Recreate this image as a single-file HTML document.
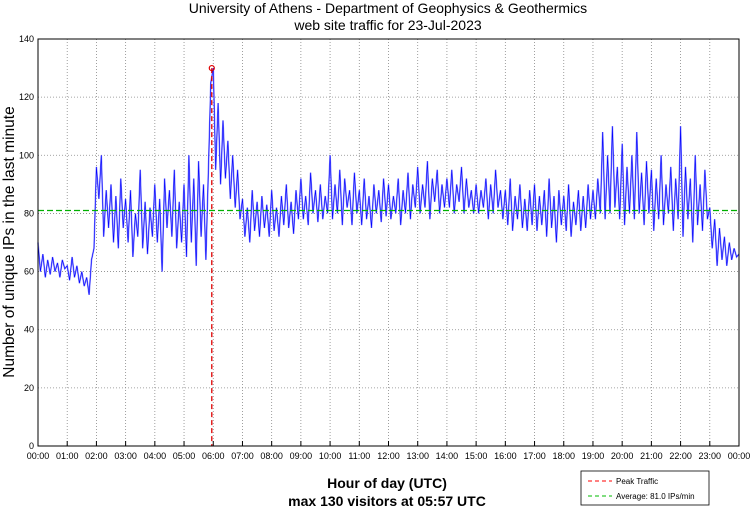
<!DOCTYPE html>
<html><head><meta charset="utf-8"><style>
body{margin:0;background:#fff;}
svg text{font-family:"Liberation Sans",sans-serif;}
</style></head><body>
<svg id="chart" width="750" height="511" xmlns="http://www.w3.org/2000/svg">
<rect width="750" height="511" fill="#fff"/>
<text x="388" y="13" font-size="14" text-anchor="middle">University of Athens - Department of Geophysics &amp; Geothermics</text>
<text x="388" y="30" font-size="14" text-anchor="middle">web site traffic for 23-Jul-2023</text>
<g id="grid"></g>
<g id="ticks"></g>
<g id="series"></g>
<rect x="38" y="39" width="701" height="407" fill="none" stroke="#000" stroke-width="1"/>
<text transform="translate(14,242) rotate(-90)" font-size="15.5" text-anchor="middle">Number of unique IPs in the last minute</text>
<text x="387" y="488" font-size="14" font-weight="bold" text-anchor="middle">Hour of day (UTC)</text>
<text x="387" y="506" font-size="14" font-weight="bold" text-anchor="middle">max 130 visitors at 05:57 UTC</text>
<g>
<rect x="581" y="471" width="128" height="34" fill="#fff" stroke="#000" stroke-width="0.8"/>
<line x1="588" y1="481" x2="612" y2="481" stroke="#f00" stroke-dasharray="4,3"/>
<text x="616" y="484" font-size="8">Peak Traffic</text>
<line x1="588" y1="496" x2="612" y2="496" stroke="#0b0" stroke-dasharray="4,3"/>
<text x="616" y="499" font-size="8">Average: 81.0 IPs/min</text>
</g>
</svg>
<script>
const yTicks=[0,20,40,60,80,100,120,140];
const hourLabels=["00:00","01:00","02:00","03:00","04:00","05:00","06:00","07:00","08:00","09:00","10:00","11:00","12:00","13:00","14:00","15:00","16:00","17:00","18:00","19:00","20:00","21:00","22:00","23:00","00:00"];
const traffic=[
70,60,66,58,64,59,65,60,63,58,64,61,
62,57,65,58,62,56,60,55,58,52,64,68,
96,85,100,72,88,75,90,70,86,68,92,75,
85,70,88,65,80,72,95,68,84,66,82,72,
90,70,85,60,92,75,88,72,95,68,84,70,
90,65,100,70,92,62,98,72,90,64,95,125,
130,95,118,90,112,92,105,85,100,82,95,78,
85,72,82,70,88,74,84,72,86,75,83,72,
88,74,82,72,86,76,90,75,84,73,88,78,
92,78,86,76,94,80,88,77,90,78,86,80,
100,78,90,80,95,76,92,82,88,76,94,80,
88,76,92,78,86,75,90,80,88,77,92,79,
90,78,86,80,92,76,88,80,94,78,90,82,
96,80,90,82,98,78,92,84,95,80,90,82,
92,82,95,80,90,84,96,80,92,82,88,80,
90,80,88,82,92,78,90,80,95,82,88,78,
88,76,92,74,86,78,90,75,85,74,88,76,
90,74,86,76,88,72,92,75,86,70,88,76,
86,74,90,72,84,76,88,74,86,75,90,78,
88,78,92,80,108,78,100,80,110,82,96,78,
104,76,96,80,100,78,108,80,94,76,98,80,
95,74,92,78,100,76,90,80,96,74,92,78,
110,72,96,78,92,70,100,76,90,74,95,78,
82,68,78,62,75,64,72,62,70,64,68,65,66];
const peakValue=[130];
const peakMinute=[357];
const averageValue=[81.0];

const X0=38,X1=739,Y0=446,Y1=39;
const xM=m=>X0+m/1440*(X1-X0);
const yV=v=>Y0-v/140*(Y0-Y1);
const NS="http://www.w3.org/2000/svg";
function mk(tag,attrs,parent){const e=document.createElementNS(NS,tag);for(const k in attrs)e.setAttribute(k,attrs[k]);parent.appendChild(e);return e;}
const grid=document.getElementById('grid'),ticks=document.getElementById('ticks'),series=document.getElementById('series');
yTicks.forEach(v=>{
  const y=yV(v);
  if(v>0&&v<140){const g=mk('line',{x1:X0,x2:X1,y1:y,y2:y,stroke:'#888','stroke-dasharray':'1,2','stroke-width':0.8},grid);
  
  }
  const t=mk('text',{x:X0-4,y:y+3,'font-size':9,'text-anchor':'end'},ticks);t.textContent=v;
  
  
});
hourLabels.forEach((l,i)=>{
  const x=xM(i*60);
  if(i>0&&i<24){const g=mk('line',{x1:x,x2:x,y1:Y1,y2:Y0,stroke:'#888','stroke-dasharray':'1,2','stroke-width':0.8},grid);
  
  
  mk('line',{x1:x,x2:x,y1:Y0,y2:Y0-5,stroke:'#000'},ticks);}
  const t=mk('text',{x:x,y:Y0+13,'font-size':9,'text-anchor':'middle'},ticks);t.textContent=l;
  
  
});
const step=1440/(traffic.length-1);
const pts=traffic.map((v,i)=>xM(i*step).toFixed(1)+','+yV(v).toFixed(1)).join(' ');
const halo=mk('polyline',{points:pts,fill:'none',stroke:'#9090ff','stroke-width':1.6},series);


const line=mk('polyline',{points:pts,fill:'none',stroke:'#0000ff','stroke-width':0.6},series);


const ay=yV(averageValue[0]);
const avg=mk('line',{x1:X0,x2:X1,y1:ay,y2:ay,stroke:'#00b000','stroke-width':1.3,'stroke-dasharray':'6,3'},series);


const px=xM(peakMinute[0]),py=yV(peakValue[0]);
const pl=mk('line',{x1:px,x2:px,y1:py,y2:Y0,stroke:'#e00000','stroke-width':1.3,'stroke-dasharray':'5,3'},series);


const pm=mk('circle',{cx:px,cy:py,r:2.5,fill:'none',stroke:'#e00000','stroke-width':1.2},series);


</script>
</body></html>
